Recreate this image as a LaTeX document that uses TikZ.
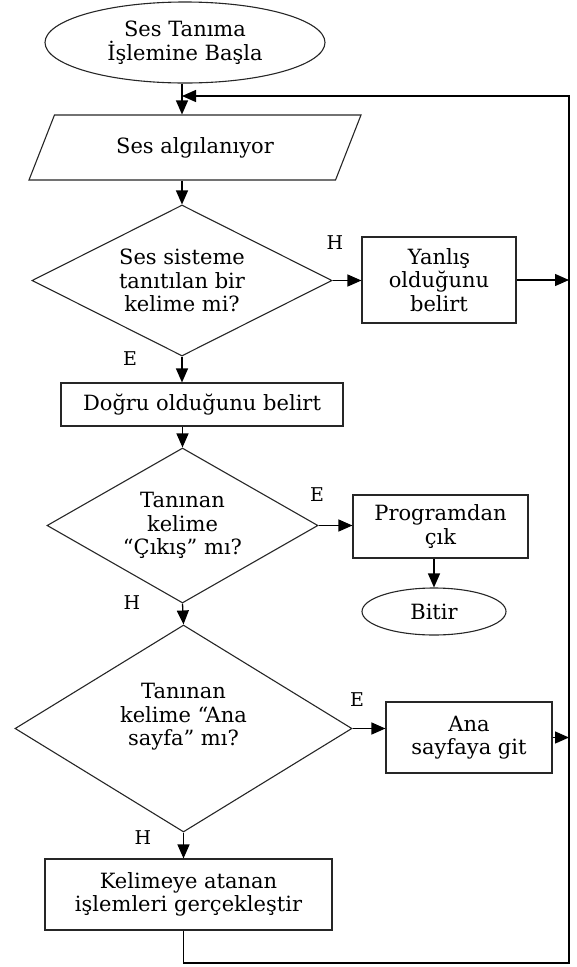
\documentclass[tikz,border=0pt]{standalone}
\usepackage{fontspec}
\setmainfont{DejaVu Serif}
\usetikzlibrary{shapes.geometric,arrows.meta}
\newcommand{\yazi}{\fontsize{21}{23.5}\selectfont}
\newcommand{\harf}{\fontsize{19}{22}\selectfont}

\begin{document}
\begin{tikzpicture}[x=1pt,y=-1pt,
  kutu/.style={rectangle, draw=black!85, line width=1.1pt, inner sep=0pt, align=center, font=\yazi},
  uc/.style={ellipse, draw=black!85, line width=1.1pt, inner sep=0pt, align=center, font=\yazi},
  karar/.style={diamond, draw=black!85, line width=1.1pt, inner sep=0pt, align=center, font=\yazi},
  girdi/.style={trapezium, trapezium left angle=39, trapezium right angle=141, trapezium stretches body, draw=black!85, line width=1.1pt, inner sep=0pt, align=center, font=\yazi},
  ok/.style={-{Triangle[length=14pt,width=12pt]}, line width=1.3pt},
  etiket/.style={inner sep=0pt, font=\harf}]
\useasboundingbox (0,0) rectangle (577,967);
\node[uc, minimum width=280pt, minimum height=81pt] (bas) at (185,42.5) {Ses Tanıma\\İşlemine Başla};
\node[girdi, minimum width=332pt, minimum height=65pt] (algi) at (195,147.5) {Ses algılanıyor};
\node[karar, shape aspect=2, minimum width=300pt, minimum height=151pt] (kont) at (182,280.5) {Ses sisteme\\tanıtılan bir\\kelime mi?};
\node[kutu, minimum width=154pt, minimum height=86pt] (yanlis) at (439,280) {Yanlış\\olduğunu\\belirt};
\node[kutu, minimum width=282pt, minimum height=43pt] (dogru) at (202,404.5) {Doğru olduğunu belirt};
\node[karar, shape aspect=1.75, minimum width=271pt, minimum height=155pt] (cikis) at (182.5,525.5) {Tanınan\\kelime\\“Çıkış” mı?};
\node[kutu, minimum width=175pt, minimum height=63pt] (prog) at (440.5,526.5) {Programdan\\çık};
\node[uc, minimum width=144pt, minimum height=47pt] (bitir) at (434,611.5) {Bitir};
\node[karar, shape aspect=1.63, minimum width=337pt, minimum height=207pt, text depth=28pt] (ana) at (183.5,728.5) {Tanınan\\kelime “Ana\\sayfa” mı?};
\node[kutu, minimum width=166pt, minimum height=71pt] (git) at (469,737.5) {Ana\\sayfaya git};
\node[kutu, minimum width=287pt, minimum height=71pt] (isle) at (188.5,894.5) {Kelimeye atanan\\işlemleri gerçekleştir};
\coordinate (sagust) at (569,96);
\coordinate (sagalt) at (569,963);
\node[etiket] (h1) at (335,243) {H};
\node[etiket] (e1) at (130,359) {E};
\node[etiket] (e2) at (317,495) {E};
\node[etiket] (h2) at (132,603) {H};
\node[etiket] (e3) at (357,700) {E};
\node[etiket] (h3) at (143,838) {H};
\draw[ok] (bas.south -| kont.north) -- (algi.north -| kont.north);
\draw[ok] (algi.south -| kont.north) -- (kont.north);
\draw[ok] (kont.east) -- (yanlis.west |- kont.east);
\draw[ok] (kont.south) -- (dogru.north -| kont.south);
\draw[ok] (dogru.south -| cikis.north) -- (cikis.north);
\draw[ok] (cikis.east) -- (prog.west |- cikis.east);
\draw[ok] (prog.south -| bitir.north) -- (bitir.north);
\draw[ok] (cikis.south) -- (ana.north);
\draw[ok] (ana.east) -- (git.west |- ana.east);
\draw[ok] (ana.south) -- (isle.north -| ana.south);
\draw[ok] (yanlis.east) -- (yanlis.east -| sagust);
\draw[ok] (git.east) -- (git.east -| sagust);
\draw[ok] (isle.south -| ana.south) -- (sagalt -| ana.south) -- (sagalt) -- (sagust) -- (sagust -| kont.north);

\end{tikzpicture}
\end{document}
